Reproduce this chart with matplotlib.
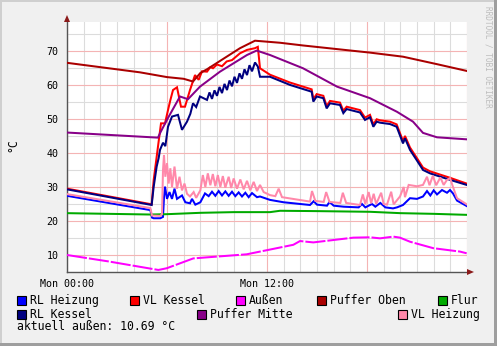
import matplotlib
matplotlib.use("Agg")
import matplotlib.pyplot as plt
from matplotlib.patches import Rectangle, Polygon
from matplotlib.ticker import MultipleLocator, FuncFormatter

# Zeit in Stunden ab Mon 00:00, Werte in °C
t_puffer_oben = [0, 4.38, 6.0, 7.0, 7.56, 8.0, 8.4, 9.58, 10.38, 11.28, 12.78, 14.16, 18.18, 20.16, 22.2, 24.0]
v_puffer_oben = [66.5, 63.7, 62.3, 61.8, 61.0, 63.5, 64.6, 68.3, 70.8, 73.0, 72.4, 71.6, 69.5, 68.3, 66.1, 64.1]

t_puffer_mitte = [0, 5.46, 5.6, 6.06, 6.78, 7.26, 7.98, 9.18, 10.8, 11.38, 12.18, 14.16, 16.2, 18.18,
                  19.8, 20.76, 21.36, 22.2, 24.0]
v_puffer_mitte = [46.0, 44.5, 46.0, 50.3, 56.6, 55.8, 59.5, 63.9, 68.8, 70.1, 68.8, 64.9, 59.5, 56.1,
                  52.1, 49.2, 45.9, 44.6, 44.0]

t_rl_kessel = [0, 5.08, 5.2, 5.38, 5.5, 5.58, 5.76, 5.9, 6.06, 6.3, 6.66, 6.9, 7.2, 7.4, 7.56, 7.75, 7.98,
               8.4, 8.55, 8.7, 8.85, 9.0, 9.15, 9.3, 9.45, 9.6, 9.75, 9.9, 10.05, 10.2, 10.35, 10.5, 10.65,
               10.8, 10.95, 11.1, 11.28, 11.45, 11.58, 12.18, 13.38, 14.68, 14.78, 14.98, 15.38, 15.58,
               15.78, 16.38, 16.58, 16.78, 17.58, 17.88, 18.18, 18.38, 18.58, 18.78, 19.38, 19.78, 20.16,
               20.28, 20.58, 20.98, 21.36, 21.78, 22.98, 23.98]
v_rl_kessel = [29.3, 24.7, 30.0, 36.0, 38.5, 40.9, 43.0, 42.0, 47.7, 50.7, 51.2, 46.8, 49.2, 51.5, 54.6, 53.5, 56.6,
               55.6, 57.8, 55.9, 58.4, 56.8, 59.4, 57.6, 60.3, 58.5, 61.3, 59.6, 62.4, 60.6, 63.4, 61.8, 64.6,
               62.9, 65.8, 64.0, 66.6, 65.4, 62.4, 62.4, 60.0, 58.0, 55.1, 56.6, 56.1, 53.1,
               54.6, 54.1, 51.7, 52.9, 51.9, 49.7, 50.5, 47.7, 49.2, 48.9, 48.5, 47.7, 42.8,
               44.3, 40.9, 37.9, 35.0, 34.0, 32.1, 30.6]

t_vl_kessel = [0, 5.08, 5.2, 5.46, 5.64, 5.88, 6.06, 6.2, 6.36, 6.6, 6.84, 7.08, 7.38, 7.68, 7.9, 8.1, 8.4,
               8.6, 8.76, 9.0, 9.3, 9.58, 9.9, 10.38, 10.8, 11.28, 11.45, 11.58, 12.18, 13.38, 14.68, 14.78,
               14.98, 15.38, 15.58, 15.78, 16.38, 16.58, 16.78, 17.58, 17.88, 18.18, 18.38, 18.58, 18.78,
               19.38, 19.78, 20.16, 20.28, 20.58, 20.98, 21.36, 21.78, 22.98, 23.98]
v_vl_kessel = [29.5, 24.9, 32.0, 41.9, 48.7, 48.7, 52.6, 55.5, 58.5, 59.3, 53.6, 53.6, 58.5, 62.9, 61.5, 64.0, 63.9,
               65.2, 64.9, 66.0, 65.5, 66.9, 67.3, 69.3, 70.3, 70.8, 71.2, 64.9, 63.0, 60.7, 58.7, 55.8,
               57.3, 56.8, 53.8, 55.3, 54.8, 52.4, 53.6, 52.6, 50.4, 51.2, 48.4, 49.9, 49.6,
               49.2, 48.4, 43.5, 45.0, 41.6, 38.6, 35.7, 34.6, 32.7, 31.0]

t_rl_heizung = [0, 5.0, 5.1, 5.2, 5.6, 5.76, 5.82, 5.88, 6.0, 6.15, 6.3, 6.45, 6.6, 6.9, 7.1, 7.38, 7.5, 7.7,
                8.0, 8.28, 8.5, 8.7, 8.9, 9.1, 9.3, 9.5, 9.7, 9.9, 10.1, 10.3, 10.5, 10.7, 10.9, 11.1, 11.4,
                11.58, 12.18, 13.0, 14.58, 14.8, 15.0, 15.6, 15.75, 16.0, 16.6, 17.5, 17.7, 17.9, 18.3, 18.5,
                18.8, 19.1, 19.56, 19.8, 20.16, 20.58, 21.0, 21.36, 21.6, 21.8, 22.0, 22.2, 22.5, 22.8,
                22.98, 23.16, 23.4, 23.98]
v_rl_heizung = [27.4, 23.2, 21.0, 20.8, 20.8, 21.2, 27.0, 30.1, 26.5, 28.5, 26.5, 29.5, 26.5, 27.5, 25.5, 25.2, 26.5, 24.8,
                25.5, 28.1, 27.3, 28.6, 27.4, 28.8, 27.5, 28.7, 27.4, 28.6, 27.3, 28.4, 27.2, 28.3, 27.0, 28.2, 27.0,
                27.2, 26.2, 25.5, 24.7, 25.8, 24.8, 24.5, 25.6, 24.5, 24.2, 24.0, 25.0, 24.0, 25.0, 24.2,
                25.3, 24.0, 23.7, 24.0, 24.7, 26.7, 26.5, 27.2, 28.8, 27.5, 29.0, 27.8, 29.1, 28.3,
                29.1, 28.1, 26.0, 24.4]

t_vl_heizung = [0, 5.0, 5.1, 5.6, 5.7, 5.76, 5.82, 5.9, 6.0, 6.1, 6.2, 6.3, 6.45, 6.6, 6.75, 6.9, 7.05, 7.2,
                7.38, 7.6, 7.75, 8.0, 8.15, 8.3, 8.45, 8.6, 8.75, 8.9, 9.05, 9.2, 9.35, 9.5, 9.7, 9.85, 10.0,
                10.2, 10.4, 10.6, 10.8, 11.0, 11.2, 11.4, 11.58, 11.8, 12.18, 12.5, 12.7, 12.9, 14.58, 14.7,
                14.9, 15.4, 15.55, 15.75, 16.4, 16.55, 16.75, 17.58, 17.75, 17.9, 18.1, 18.25, 18.4, 18.55,
                18.85, 19.0, 19.2, 19.45, 19.6, 19.98, 20.2, 20.28, 20.5, 21.0, 21.36, 21.6, 21.75, 21.95,
                22.15, 22.4, 22.6, 22.8, 22.98, 23.16, 23.4, 23.98]
v_vl_heizung = [27.9, 23.8, 21.6, 21.5, 22.0, 35.0, 39.4, 33.0, 37.0, 31.0, 35.5, 30.0, 36.0, 29.5, 33.0, 29.0, 31.0, 28.0,
                27.2, 28.5, 26.8, 29.0, 33.5, 30.0, 34.0, 30.5, 33.8, 30.2, 33.5, 30.0, 33.2, 29.8, 33.0, 29.7, 32.5,
                29.5, 32.2, 29.3, 31.8, 29.0, 31.5, 28.8, 30.6, 28.5, 27.6, 27.3, 29.5, 27.0, 25.7, 28.8,
                25.9, 25.6, 28.5, 25.6, 25.3, 28.3, 25.3, 24.7, 27.8, 25.0, 28.5, 25.2, 28.0, 25.0,
                28.3, 25.0, 24.8, 28.6, 24.9, 27.2, 30.0, 27.0, 30.6, 30.2, 30.6, 33.0, 30.5, 33.3,
                30.5, 32.8, 30.6, 32.1, 32.6, 30.0, 26.7, 24.9]

t_flur = [0, 5.0, 6.0, 8.0, 10.0, 12.18, 12.78, 15.0, 18.18, 20.0, 22.0, 24.0]
v_flur = [22.3, 21.9, 22.0, 22.4, 22.6, 22.6, 23.0, 22.9, 22.7, 22.3, 22.1, 21.8]

t_aussen = [0, 2.5, 5.48, 5.98, 7.58, 10.78, 12.08, 13.58, 13.98, 14.78, 15.98, 17.18, 18.18, 18.78,
            19.58, 19.98, 20.58, 21.98, 23.58, 23.98]
v_aussen = [10.0, 8.1, 5.6, 6.1, 9.0, 10.2, 11.5, 13.0, 14.1, 13.7, 14.4, 15.1, 15.2, 14.9,
            15.4, 15.1, 13.9, 12.0, 11.0, 10.5]

aktuell_aussen = 10.69

W, H = 497, 346
mono = 'DejaVu Sans Mono'

fig = plt.figure(figsize=(W / 100, H / 100), dpi=100, facecolor='#F0F0F0')


def fx(px):
    return px / W


def fy(py):
    return 1 - py / H


# Rahmen (Schatten)
fig.add_artist(Rectangle((0, fy(2)), 1, 2 / H, transform=fig.transFigure, facecolor='#CFCFCF', lw=0))
fig.add_artist(Rectangle((0, 0), 2 / W, 1, transform=fig.transFigure, facecolor='#CFCFCF', lw=0))
fig.add_artist(Rectangle((0, 0), 1, 3 / H, transform=fig.transFigure, facecolor='#9E9E9E', lw=0))
fig.add_artist(Rectangle((fx(W - 3), 0), 3 / W, 1, transform=fig.transFigure, facecolor='#9E9E9E', lw=0))

ax = fig.add_axes([fx(67), fy(272), fx(467) - fx(67), fy(22) - fy(272)])
ax.set_facecolor('white')

series = [
    (t_rl_heizung, v_rl_heizung, '#0000FF', 'RL Heizung'),
    (t_vl_kessel, v_vl_kessel, '#FF0000', 'VL Kessel'),
    (t_aussen, v_aussen, '#FF00FF', 'Außen'),
    (t_puffer_oben, v_puffer_oben, '#AA0000', 'Puffer Oben'),
    (t_flur, v_flur, '#00AA00', 'Flur'),
    (t_rl_kessel, v_rl_kessel, '#000080', 'RL Kessel'),
    (t_puffer_mitte, v_puffer_mitte, '#880088', 'Puffer Mitte'),
    (t_vl_heizung, v_vl_heizung, '#FF88AA', 'VL Heizung'),
]

for t, v, c, name in series:
    ls = (0, (10, 1.0)) if name == 'Außen' else '-'
    ax.plot(t, v, color=c, lw=1.45, ls=ls, zorder=3, solid_joinstyle='miter')

ax.set_xlim(0, 24)
ax.set_ylim(5, 78.5)

ax.xaxis.set_major_locator(MultipleLocator(6))
ax.xaxis.set_minor_locator(MultipleLocator(1))
ax.yaxis.set_major_locator(MultipleLocator(10))
ax.yaxis.set_minor_locator(MultipleLocator(5))
ax.xaxis.set_major_formatter(FuncFormatter(
    lambda x, p: {0: 'Mon 00:00', 12: 'Mon 12:00'}.get(int(round(x)), '')))
ax.yaxis.set_major_formatter(FuncFormatter(lambda y, p: '%d' % y if y >= 10 else ''))

ax.grid(which='minor', color='#DCDCDC', lw=0.8, zorder=0)
ax.grid(which='major', color='#F4B4B4', lw=0.8, zorder=1)
ax.set_axisbelow(True)

ax.tick_params(which='both', length=0, labelsize=7.2, colors='#000000')
ax.tick_params(axis='y', pad=6)
ax.tick_params(axis='x', pad=5)
for lab in ax.get_xticklabels() + ax.get_yticklabels():
    lab.set_family(mono)

for s in ['top', 'right']:
    ax.spines[s].set_visible(False)
for s in ['left', 'bottom']:
    ax.spines[s].set_color('#555555')
    ax.spines[s].set_linewidth(1.0)

# Achsenpfeile
fig.add_artist(Polygon([(fx(64), fy(22)), (fx(70), fy(22)), (fx(67), fy(15))],
                       closed=True, transform=fig.transFigure, facecolor='#8B1A1A', lw=0))
fig.add_artist(Polygon([(fx(467), fy(269)), (fx(467), fy(275)), (fx(474), fy(272))],
                       closed=True, transform=fig.transFigure, facecolor='#8B1A1A', lw=0))

fig.text(fx(13), fy(145), '°C', rotation=90, ha='center', va='center', family=mono, fontsize=8.3)
fig.text(fx(488), fy(6), 'RRDTOOL / TOBI OETIKER', rotation=270, ha='center', va='top',
         family=mono, fontsize=5.6, color='#BDBDBD')

# Legende
legend_pos = {
    'RL Heizung': (17, 296), 'VL Kessel': (130, 296), 'Außen': (236, 296),
    'Puffer Oben': (317, 296), 'Flur': (438, 296),
    'RL Kessel': (17, 310), 'Puffer Mitte': (197, 310), 'VL Heizung': (398, 310),
}
for t, v, c, name in series:
    x, y = legend_pos[name]
    fig.add_artist(Rectangle((fx(x), fy(y + 9)), 9 / W, 9 / H, transform=fig.transFigure,
                             facecolor=c, edgecolor='black', lw=0.8))
    fig.text(fx(x + 13), fy(y + 4.5), name, ha='left', va='center', family=mono, fontsize=8.3)

fig.text(fx(17), fy(327), 'aktuell außen: %.2f °C' % aktuell_aussen, ha='left', va='center',
         family=mono, fontsize=8.3)

fig.savefig('out.png', dpi=100, facecolor=fig.get_facecolor())
